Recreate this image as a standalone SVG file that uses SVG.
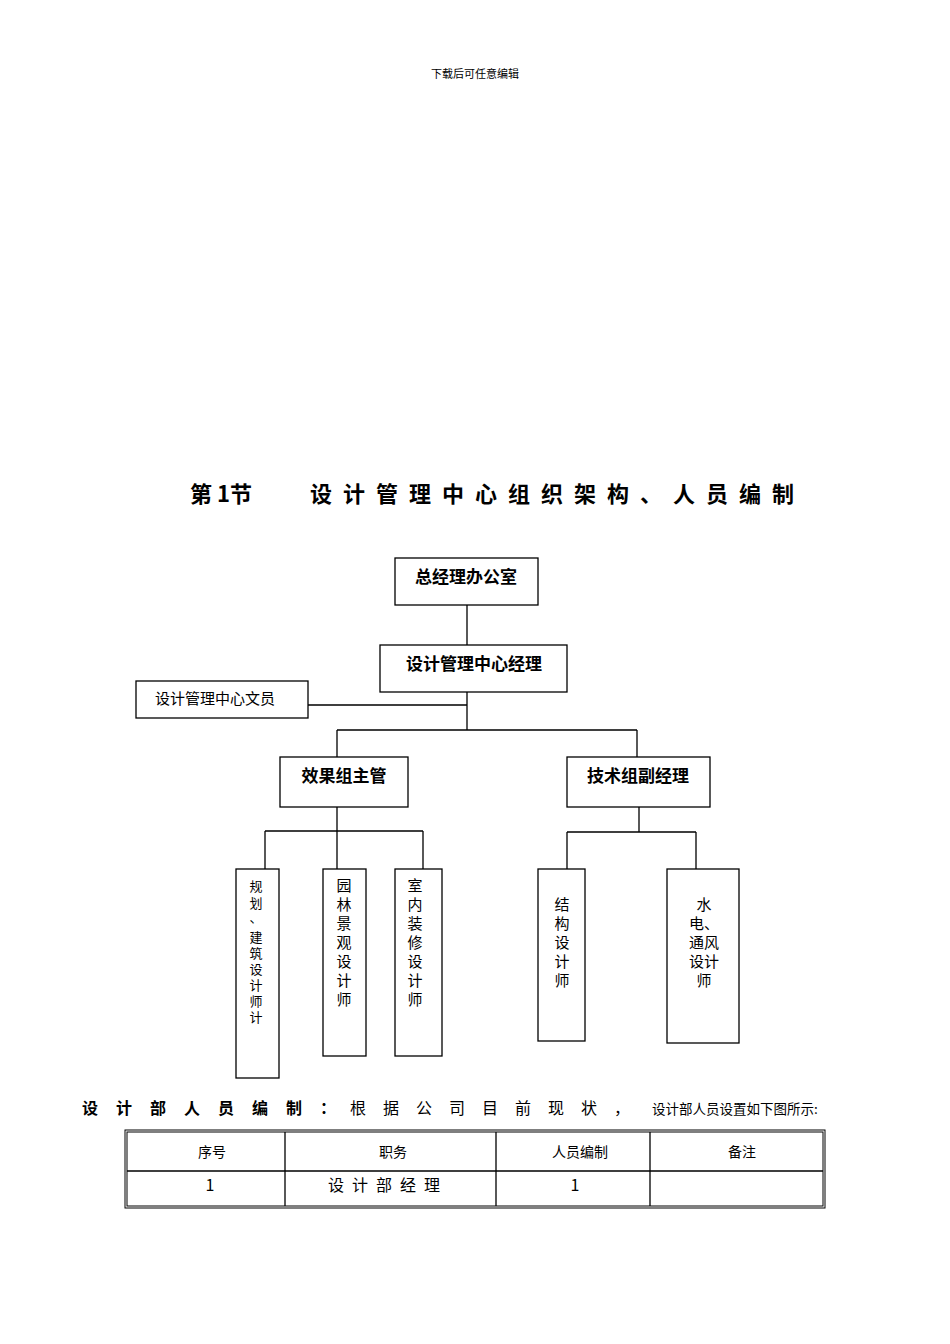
<svg xmlns="http://www.w3.org/2000/svg" width="950" height="1344" viewBox="0 0 950 1344">
<style>
.b{fill:#fff;stroke:#000;stroke-width:1.3}
.l{stroke:#000;stroke-width:1.3;fill:none}
text{font-family:"Noto Sans CJK SC","Liberation Serif",serif;fill:#000}
.h{font-size:17px;font-weight:bold;text-anchor:middle}
.v{font-size:15px;text-anchor:middle}
.s{font-size:13px;text-anchor:middle}
.t{font-size:14px;text-anchor:middle}
</style>
<rect width="950" height="1344" fill="#fff"/>
<text x="475" y="78" font-size="11" text-anchor="middle">下载后可任意编辑</text>
<text x="190" y="502" font-size="22" font-weight="bold">第 1节</text>
<text x="310" y="502" font-size="22" font-weight="bold" letter-spacing="11">设计管理中心组织架构、人员编制</text>
<g id="connectors">
<path class="l" d="M467 605V645M467 692V730M308 705H467M337 730H637M337 730V757M637 730V757M337 807V869M265 831H423M265 831V869M423 831V869M639 807V832M567 832H696M567 832V869M696 832V869"/>
</g>
<g id="n1"><rect class="b" x="395" y="558" width="143" height="47"/><text class="h" x="466" y="583">总经理办公室</text></g>
<g id="n2"><rect class="b" x="380" y="645" width="187" height="47"/><text class="h" x="474" y="670">设计管理中心经理</text></g>
<g id="n3"><rect class="b" x="136" y="681" width="172" height="37"/><text x="215" y="704" font-size="15" text-anchor="middle">设计管理中心文员</text></g>
<g id="n4"><rect class="b" x="280" y="757" width="128" height="50"/><text class="h" x="344" y="782">效果组主管</text></g>
<g id="n5"><rect class="b" x="567" y="757" width="143" height="50"/><text class="h" x="638" y="782">技术组副经理</text></g>
<g id="n6"><rect class="b" x="236" y="869" width="43" height="209"/>
<text class="s"><tspan x="256" y="891">规</tspan><tspan x="256" y="908">划</tspan><tspan x="256" y="922">、</tspan><tspan x="256" y="942">建</tspan><tspan x="256" y="958">筑</tspan><tspan x="256" y="974">设</tspan><tspan x="256" y="990">计</tspan><tspan x="256" y="1006">师</tspan><tspan x="256" y="1022">计</tspan></text></g>
<g id="n7"><rect class="b" x="323" y="869" width="43" height="187"/>
<text class="v"><tspan x="344" y="891">园</tspan><tspan x="344" y="910">林</tspan><tspan x="344" y="929">景</tspan><tspan x="344" y="948">观</tspan><tspan x="344" y="967">设</tspan><tspan x="344" y="986">计</tspan><tspan x="344" y="1005">师</tspan></text></g>
<g id="n8"><rect class="b" x="395" y="869" width="47" height="187"/>
<text class="v"><tspan x="415" y="891">室</tspan><tspan x="415" y="910">内</tspan><tspan x="415" y="929">装</tspan><tspan x="415" y="948">修</tspan><tspan x="415" y="967">设</tspan><tspan x="415" y="986">计</tspan><tspan x="415" y="1005">师</tspan></text></g>
<g id="n9"><rect class="b" x="538" y="869" width="47" height="172"/>
<text class="v"><tspan x="562" y="910">结</tspan><tspan x="562" y="929">构</tspan><tspan x="562" y="948">设</tspan><tspan x="562" y="967">计</tspan><tspan x="562" y="986">师</tspan></text></g>
<g id="n10"><rect class="b" x="667" y="869" width="72" height="174"/>
<text class="v"><tspan x="704" y="910">水</tspan><tspan x="704" y="929">电、</tspan><tspan x="704" y="948">通风</tspan><tspan x="704" y="967">设计</tspan><tspan x="704" y="986">师</tspan></text></g>
<text x="82" y="1114" font-size="16" font-weight="bold" letter-spacing="18">设计部人员编制：</text>
<text x="350" y="1114" font-size="16" letter-spacing="17">根据公司目前现状，</text>
<text x="652" y="1114" font-size="13.5">设计部人员设置如下图所示:</text>
<g id="table">
<rect x="125" y="1130" width="700" height="78" fill="none" stroke="#000" stroke-width="1"/>
<rect x="127" y="1132" width="696" height="74" fill="none" stroke="#000" stroke-width="1"/>
<path class="l" d="M127 1171H823M285 1132V1206M496 1132V1206M650 1132V1206" stroke-width="1"/>
<text class="t" x="212" y="1157">序号</text><text class="t" x="393" y="1157">职务</text><text class="t" x="580" y="1157">人员编制</text><text class="t" x="742" y="1157">备注</text>
<text x="210" y="1191" font-size="16" text-anchor="middle" font-family="Liberation Serif">1</text>
<text x="388" y="1191" font-size="16" text-anchor="middle" letter-spacing="8">设计部经理</text>
<text x="575" y="1191" font-size="16" text-anchor="middle" font-family="Liberation Serif">1</text>
</g>
</svg>
